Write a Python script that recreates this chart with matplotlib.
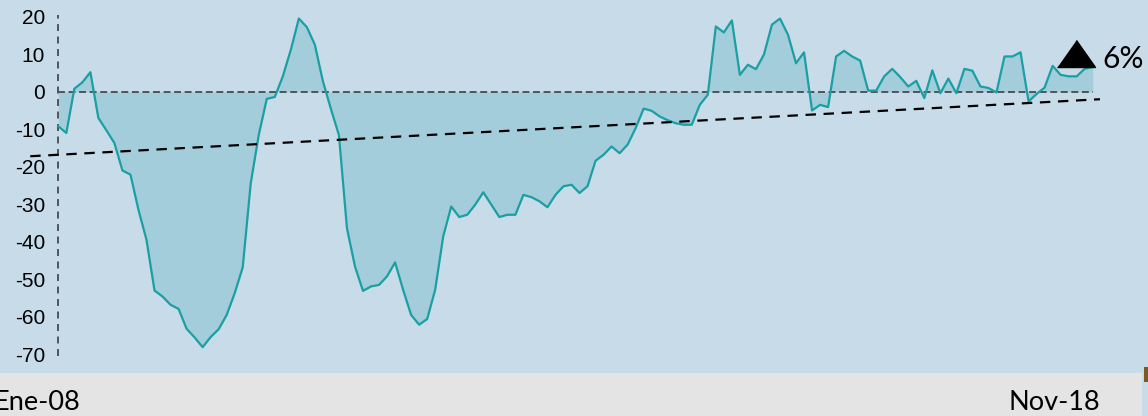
import numpy as np
import matplotlib
matplotlib.use("Agg")
import matplotlib.pyplot as plt
from matplotlib.patches import Rectangle

# ---------------- data ----------------
values = [
    -9.2, -11.0, 0.8, 2.5, 5.2, -7.0, -10.3, -13.7, -21.0, -22.1,
    -31.5, -39.5, -53.0, -54.6, -56.8, -57.9, -63.2, -65.5, -68.1, -65.4,
    -63.3, -59.5, -53.7, -46.8, -24.4, -11.5, -1.9, -1.4, 4.1, 11.2,
    19.5, 17.2, 12.5, 2.8, -4.6, -11.6, -36.4, -46.6, -53.1, -51.9,
    -51.5, -49.2, -45.5, -52.8, -59.5, -62.1, -60.6, -52.8, -38.6, -30.6,
    -33.4, -32.8, -30.1, -26.8, -30.1, -33.4, -32.8, -32.8, -27.5, -28.1,
    -29.2, -30.8, -27.5, -25.2, -24.8, -27.0, -25.2, -18.4, -16.8, -14.6,
    -16.4, -14.1, -9.7, -4.5, -5.1, -6.6, -7.6, -8.4, -8.8, -8.8,
    -3.5, -0.8, 17.4, 15.8, 19.0, 4.5, 7.2, 6.0, 9.9, 17.9,
    19.5, 15.2, 7.6, 10.5, -5.0, -3.5, -4.1, 9.4, 10.9, 9.4,
    8.3, 0.3, 0.3, 4.1, 6.1, 3.9, 1.4, 2.9, -1.7, 5.7,
    -0.4, 3.5, -0.4, 6.1, 5.6, 1.4, 1.0, -0.2, 9.4, 9.4,
    10.5, -2.6, -0.6, 1.1, 6.9, 4.5, 4.1, 4.1, 6.1, 6.6,
]
y_ticks = [20, 10, 0, -10, -20, -30, -40, -50, -60, -70]
x_labels = ["Ene-08", "Nov-18"]
trend_x = [-3.5, 129.9]
trend_y = [-17.2, -2.0]
last_label = "6%"

# ---------------- style ----------------
BG = "#c8dbe8"
STRIP = "#e4e4e4"
FILL = "#a3cddb"
LINE = "#1a9fa3"
AXGREY = "#4f5559"

plt.rcParams["lines.scale_dashes"] = False

W, H = 1148, 416
fig = plt.figure(figsize=(W / 100, H / 100), dpi=100)
fig.patch.set_facecolor(BG)

strip_h = 43.3 / H
fig.add_artist(Rectangle((0, 0), 1142 / W, strip_h, transform=fig.transFigure,
                         facecolor=STRIP, edgecolor="none", zorder=0))
fig.add_artist(Rectangle((1144 / W, (H - 382) / H), 4 / W, 15 / H,
                         transform=fig.transFigure, facecolor="#7a5a1e",
                         edgecolor="none", zorder=0))

ax = fig.add_axes([0, strip_h, 1, 1 - strip_h])
ax.set_facecolor("none")
for s in ax.spines.values():
    s.set_visible(False)

x = np.arange(len(values))
y = np.array(values)

# pixel mapping of data
x0_px, x1_px = 58.3, 1092.7
ppx = (x1_px - x0_px) / (len(values) - 1)
ax.set_xlim(-x0_px / ppx, (len(values) - 1) + (W - x1_px) / ppx)
ax.set_ylim(-74.9, 24.45)

ax.fill_between(x, y, 0, color=FILL, linewidth=0, zorder=1)
ax.plot(x, y, color=LINE, linewidth=1.6, zorder=3)

# zero line
zl, = ax.plot([x[0], x[-1]], [0, 0], color=AXGREY, linewidth=1.4, zorder=2)
zl.set_dashes([5.0, 2.6])
# vertical axis line
vl, = ax.plot([x[0], x[0]], [y_ticks[-1] - 0.5, y_ticks[0] + 0.5],
              color=AXGREY, linewidth=1.4, zorder=2)
vl.set_dashes([5.0, 4.0])
# trend line
tl, = ax.plot(trend_x, trend_y, color="black", linewidth=1.6, zorder=4)
tl.set_dashes([7.5, 5.5])

# y ticks
ax.set_xticks([])
ax.set_yticks(y_ticks)
ax.set_yticklabels([str(t) for t in y_ticks], family="Liberation Sans", fontsize=15)
ax.tick_params(axis="y", length=0, pad=-45 * 0.72, colors="black")

# triangle marker and label
tri = [(-1, 0), (1, 0), (0, 1.42)]
ax.plot([x[-1] - 2.1], [y[-1]], marker=tri, markersize=38.9, color="black",
        linestyle="none", zorder=5, clip_on=False)
ax.annotate(last_label, xy=(x[-1], y[-1]), xytext=(6.8, -0.5),
            textcoords="offset points", ha="left", va="baseline",
            family="Lato", fontsize=21.5, color="black", zorder=6)

# x labels in footer strip
fig.text(80 / W, (H - 410) / H, x_labels[0], ha="right", va="baseline",
         family="Lato", fontsize=19.5, color="black")
fig.text(1100 / W, (H - 410) / H, x_labels[1], ha="right", va="baseline",
         family="Lato", fontsize=19.5, color="black")

fig.savefig("out.png", dpi=100, facecolor=fig.get_facecolor())
